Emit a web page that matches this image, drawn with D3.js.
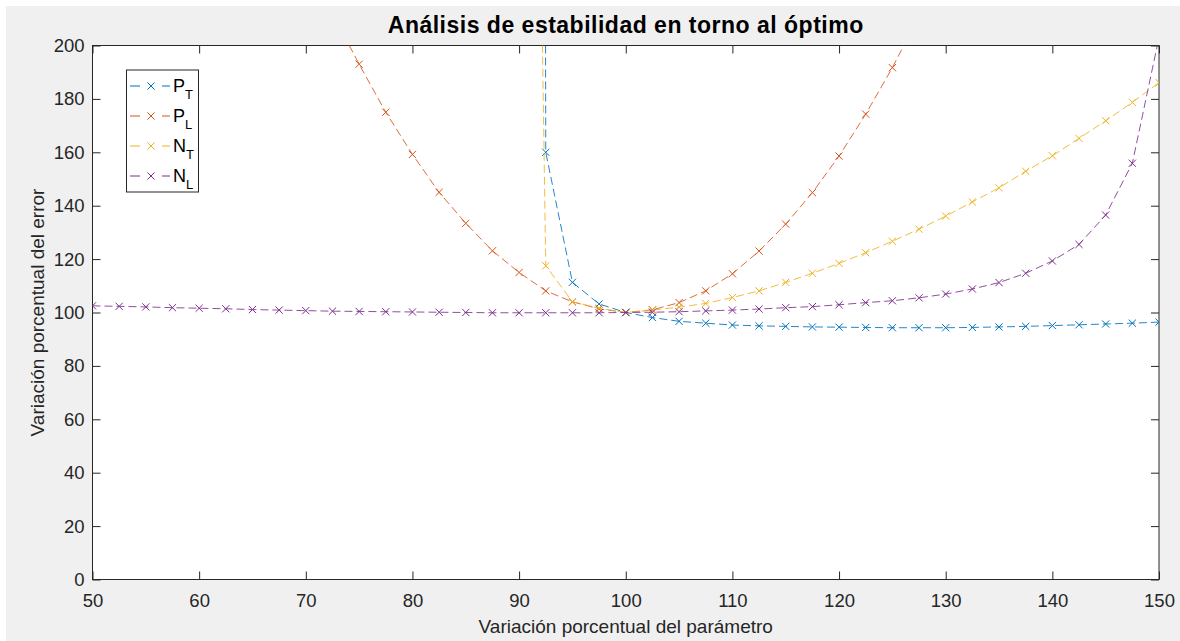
<!DOCTYPE html>
<html>
<head>
<meta charset="utf-8">
<script src="https://cdn.jsdelivr.net/npm/d3@7"></script>
<style>
  body { margin: 0; background: #fff; }
  svg { display: block; font-family: "Liberation Sans", Arial, sans-serif; }
</style>
</head>
<body>
<svg id="chart" width="1180" height="641"></svg>
<script>
// x: variación porcentual del parámetro
var xVals = [50, 52.5, 55, 57.5, 60, 62.5, 65, 67.5, 70, 72.5,
             75, 77.5, 80, 82.5, 85, 87.5, 90, 92.5, 95, 97.5,
             100, 102.5, 105, 107.5, 110, 112.5, 115, 117.5, 120, 122.5,
             125, 127.5, 130, 132.5, 135, 137.5, 140, 142.5, 145, 147.5, 150];

// null = fuera de la gráfica (no visible)
var pT = [null, null, null, null, null, null, null, null, null, null,
          null, null, null, null, null, null, 5000, 160, 111.3, 103.2,
          100, 98.1, 96.7, 96.0, 95.3, 95.0, 94.8, 94.6, 94.5, 94.4,
          94.3, 94.3, 94.3, 94.4, 94.6, 94.8, 95.1, 95.4, 95.7, 96.0, 96.4];

var pL = [null, null, null, null, null, null, null, null, null, 212,
          193, 175, 159.2, 145, 133.4, 123.1, 115, 108.1, 104, 101.4,
          100, 101, 103.7, 108.1, 114.5, 123, 133.1, 144.9, 158.6, 174.3,
          191.7, 211, null, null, null, null, null, null, null, null, null];

var nT = [null, null, null, null, null, null, null, null, null, null,
          null, null, null, null, null, null, 780, 117.5, 104, 101.6,
          100, 100.9, 102, 103.4, 105.6, 108.1, 111.3, 114.7, 118.4, 122.4,
          126.7, 131.2, 136.1, 141.4, 146.7, 152.9, 158.7, 165.2, 171.8, 178.7, 186.1];

var nL = [102.5, 102.3, 102.1, 101.8, 101.6, 101.4, 101.1, 100.9, 100.7, 100.5,
          100.4, 100.3, 100.2, 100.1, 100.0, 99.9, 99.9, 99.9, 99.9, 99.9,
          100, 100.1, 100.3, 100.6, 100.9, 101.3, 101.8, 102.2, 102.9, 103.7,
          104.4, 105.5, 106.9, 108.8, 111.2, 114.7, 119.3, 125.5, 136.5, 155.9, 203];

var xTicks = [50, 60, 70, 80, 90, 100, 110, 120, 130, 140, 150];
var yTicks = [0, 20, 40, 60, 80, 100, 120, 140, 160, 180, 200];

var series = [
  { name: "P", sub: "T", values: pT, color: "#0072BD" },
  { name: "P", sub: "L", values: pL, color: "#D95319" },
  { name: "N", sub: "T", values: nT, color: "#EDB120" },
  { name: "N", sub: "L", values: nL, color: "#7E2F8E" }
];

var LEFT = 92.5, RIGHT = 1159, TOP = 45.5, BOTTOM = 579.5;
var AXIS_COLOR = "#262626";
var TICK = 8;

var svg = d3.select("#chart");

// figure background (white strip at top/left like the screenshot)
svg.append("rect")
  .attr("x", 6).attr("y", 6)
  .attr("width", 1174).attr("height", 635)
  .attr("fill", "#f0f0f0");

var x = d3.scaleLinear().domain([50, 150]).range([LEFT, RIGHT]);
var y = d3.scaleLinear().domain([0, 200]).range([BOTTOM, TOP]);

svg.append("defs").append("clipPath").attr("id", "plotclip")
  .append("rect")
  .attr("x", LEFT).attr("y", TOP)
  .attr("width", RIGHT - LEFT).attr("height", BOTTOM - TOP);

svg.append("rect")
  .attr("x", LEFT).attr("y", TOP)
  .attr("width", RIGHT - LEFT).attr("height", BOTTOM - TOP)
  .attr("fill", "#fff");

// axes (ticks inward on all four sides)
var axB = svg.append("g").attr("transform", "translate(0," + BOTTOM + ")")
  .call(d3.axisBottom(x).tickValues(xTicks).tickSizeInner(-TICK).tickSizeOuter(0).tickPadding(14));
var axT = svg.append("g").attr("transform", "translate(0," + TOP + ")")
  .call(d3.axisTop(x).tickValues(xTicks).tickSizeInner(-TICK).tickSizeOuter(0).tickFormat(""));
var axL = svg.append("g").attr("transform", "translate(" + LEFT + ",0)")
  .call(d3.axisLeft(y).tickValues(yTicks).tickSizeInner(-TICK).tickSizeOuter(0).tickPadding(8));
var axR = svg.append("g").attr("transform", "translate(" + RIGHT + ",0)")
  .call(d3.axisRight(y).tickValues(yTicks).tickSizeInner(-TICK).tickSizeOuter(0).tickFormat(""));

[axB, axT, axL, axR].forEach(function (g) {
  g.selectAll(".domain").remove();
  g.selectAll(".tick line").attr("stroke", AXIS_COLOR);
  g.selectAll(".tick text")
    .attr("fill", AXIS_COLOR)
    .style("font-size", "18.5px")
    .style("font-family", "Liberation Sans, Arial, sans-serif");
});

svg.append("rect")
  .attr("x", LEFT).attr("y", TOP)
  .attr("width", RIGHT - LEFT).attr("height", BOTTOM - TOP)
  .attr("fill", "none").attr("stroke", AXIS_COLOR).attr("stroke-width", 1);

// lines + 'x' markers
var plot = svg.append("g").attr("clip-path", "url(#plotclip)");
var line = d3.line()
  .defined(function (d) { return d != null; })
  .x(function (d, i) { return x(xVals[i]); })
  .y(function (d) { return y(d); });

var M = 3.6;
function crossPath(cx, cy) {
  return "M" + (cx - M) + "," + (cy - M) + "L" + (cx + M) + "," + (cy + M) +
         "M" + (cx - M) + "," + (cy + M) + "L" + (cx + M) + "," + (cy - M);
}

series.forEach(function (s) {
  plot.append("path").datum(s.values)
    .attr("fill", "none")
    .attr("stroke", s.color)
    .attr("stroke-width", 1)
    .attr("stroke-opacity", 0.85)
    .attr("stroke-dasharray", "8,4")
    .attr("d", line);
  var pts = s.values.map(function (v, i) { return [xVals[i], v]; })
    .filter(function (p) { return p[1] != null; });
  plot.append("path")
    .attr("fill", "none")
    .attr("stroke", s.color)
    .attr("stroke-width", 1)
    .attr("d", pts.map(function (p) { return crossPath(x(p[0]), y(p[1])); }).join(""));
});

// title and axis labels
svg.append("text")
  .attr("x", (LEFT + RIGHT) / 2).attr("y", 33)
  .attr("text-anchor", "middle")
  .style("font-size", "23px").style("font-weight", "bold")
  .style("letter-spacing", "0.5px")
  .attr("fill", "#000")
  .text("Análisis de estabilidad en torno al óptimo");

svg.append("text")
  .attr("x", (LEFT + RIGHT) / 2).attr("y", 633)
  .attr("text-anchor", "middle")
  .style("font-size", "19px")
  .attr("fill", AXIS_COLOR)
  .text("Variación porcentual del parámetro");

svg.append("text")
  .attr("transform", "translate(43.5," + ((TOP + BOTTOM) / 2) + ") rotate(-90)")
  .attr("text-anchor", "middle")
  .style("font-size", "19px")
  .attr("fill", AXIS_COLOR)
  .text("Variación porcentual del error");

// legend
var lg = svg.append("g");
lg.append("rect")
  .attr("x", 126.5).attr("y", 70)
  .attr("width", 72).attr("height", 122)
  .attr("fill", "#fff").attr("stroke", AXIS_COLOR).attr("stroke-width", 1);

series.forEach(function (s, i) {
  var cy = 86 + i * 30;
  lg.append("line").attr("x1", 130).attr("x2", 140).attr("y1", cy).attr("y2", cy)
    .attr("stroke", s.color).attr("stroke-width", 1);
  lg.append("line").attr("x1", 162).attr("x2", 170).attr("y1", cy).attr("y2", cy)
    .attr("stroke", s.color).attr("stroke-width", 1);
  lg.append("path").attr("d", crossPath(151, cy))
    .attr("fill", "none").attr("stroke", s.color).attr("stroke-width", 1);
  var t = lg.append("text")
    .attr("x", 173).attr("y", cy + 6)
    .style("font-size", "18px")
    .attr("fill", "#000");
  t.append("tspan").text(s.name);
  t.append("tspan").attr("dy", 7).style("font-size", "13px").text(s.sub);
});
</script>
</body>
</html>
